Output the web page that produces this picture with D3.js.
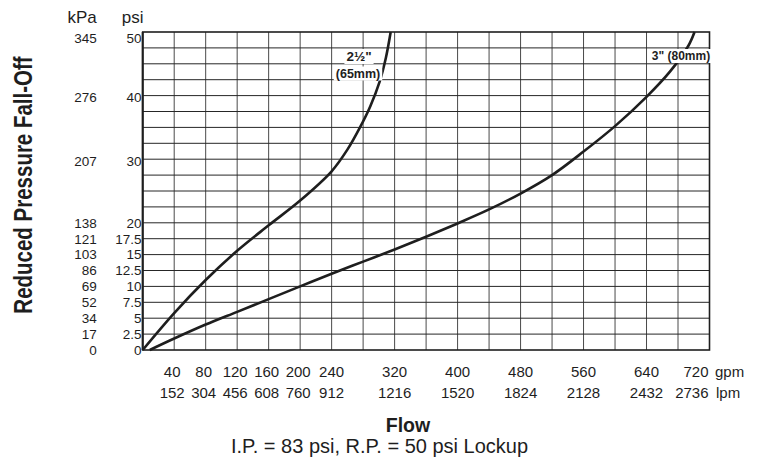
<!DOCTYPE html>
<html><head><meta charset="utf-8">
<script src="https://cdn.jsdelivr.net/npm/d3@7/dist/d3.min.js"></script>
<style>body{margin:0;background:#fff}svg{display:block}</style>
</head><body><svg id="c" width="761" height="470"></svg>
<script>
// ---- data ----
const gpmTicks = [40, 80, 120, 160, 200, 240, 320, 400, 480, 560, 640, 720];
const lpmTicks = [152, 304, 456, 608, 760, 912, 1216, 1520, 1824, 2128, 2432, 2736];
const psiTicks = [0, 2.5, 5, 7.5, 10, 12.5, 15, 17.5, 20, 30, 40, 50];
const kpaTicks = [0, 17, 34, 52, 69, 86, 103, 121, 138, 207, 276, 345];
const flow25 = [0, 40, 80, 120, 160, 200, 240, 260, 276, 289, 301, 309, 315];
const psi25  = [0, 5.8, 11.0, 15.6, 19.6, 23.5, 28.1, 31.5, 35.0, 38.3, 42.2, 46.0, 50];
const flow3  = [9, 40, 80, 120, 160, 200, 240, 280, 320, 360, 400, 440, 480, 520, 560, 600, 640, 670, 693, 701];
const psi3   = [0, 1.8, 4.0, 6.0, 8.0, 10.0, 12.0, 13.9, 15.8, 17.8, 19.9, 22.1, 24.6, 27.5, 31.2, 35.2, 39.8, 43.8, 47.8, 50];

const svg = d3.select("#c");
const x = d3.scaleLinear().domain([0, 720]).range([142.7, 709.5]);
const y = d3.scaleLinear().domain([0, 50]).range([350, 32]);
const ink = "#1e1e1e";
const SANS = "'Liberation Sans', Arial, sans-serif";

// grid
svg.append("g").selectAll("line").data(d3.range(40, 720, 40)).join("line")
  .attr("x1", d => x(d)).attr("x2", d => x(d)).attr("y1", y(50)).attr("y2", y(0))
  .attr("stroke", "#4a4a4a").attr("stroke-width", 1);
svg.append("g").selectAll("line").data(d3.range(2.5, 50, 2.5)).join("line")
  .attr("x1", x(0)).attr("x2", x(720)).attr("y1", d => y(d)).attr("y2", d => y(d))
  .attr("stroke", "#262626").attr("stroke-width", 1);
svg.append("rect").attr("x", x(0)).attr("y", y(50)).attr("width", x(720) - x(0)).attr("height", y(0) - y(50))
  .attr("fill", "none").attr("stroke", ink).attr("stroke-width", 1.6);
svg.append("line").attr("x1", x(0)).attr("x2", x(0)).attr("y1", y(50)).attr("y2", y(0))
  .attr("stroke", ink).attr("stroke-width", 2);

// curves
const line = d3.line().x(d => x(d[0])).y(d => y(d[1])).curve(d3.curveCatmullRom.alpha(0.5));
svg.append("path").attr("d", line(flow25.map((f, i) => [f, psi25[i]])))
  .attr("fill", "none").attr("stroke", ink).attr("stroke-width", 2.6);
svg.append("path").attr("d", line(flow3.map((f, i) => [f, psi3[i]])))
  .attr("fill", "none").attr("stroke", ink).attr("stroke-width", 2.6);

// curve labels with white boxes
function label(cx, cy, txt, size) {
  const t = svg.append("text").attr("x", cx).attr("y", cy).attr("text-anchor", "middle")
    .attr("dominant-baseline", "central").attr("font-family", SANS).attr("font-weight", "bold")
    .attr("font-size", size).attr("fill", ink).text(txt);
  const b = t.node().getBBox();
  svg.insert("rect", () => t.node()).attr("x", b.x - 2).attr("y", b.y).attr("width", b.width + 4)
    .attr("height", b.height).attr("fill", "#fff");
}
label(359, 56.5, "2½\"", 13.5);
label(358, 73.5, "(65mm)", 12.5);
label(681, 56, "3\" (80mm)", 12);

// y tick labels (psi and kPa)
const yShift = v => v === 50 ? 6 : (v >= 30 ? 2 : 0);
svg.append("g").selectAll("text").data(psiTicks).join("text")
  .attr("x", 141.5).attr("y", d => y(d) + yShift(d)).attr("dy", "0.36em")
  .attr("text-anchor", "end").attr("font-family", SANS).attr("font-size", 13.5).attr("fill", ink)
  .text(d => d);
svg.append("g").selectAll("text").data(kpaTicks).join("text")
  .attr("x", 96.7).attr("y", (d, i) => y(psiTicks[i]) + yShift(psiTicks[i])).attr("dy", "0.36em")
  .attr("text-anchor", "end").attr("font-family", SANS).attr("font-size", 13.5).attr("fill", ink)
  .text(d => d);
svg.append("text").attr("x", 96.7).attr("y", 23).attr("text-anchor", "end")
  .attr("font-family", SANS).attr("font-size", 17).attr("fill", ink).text("kPa");
svg.append("text").attr("x", 121.7).attr("y", 23)
  .attr("font-family", SANS).attr("font-size", 17).attr("fill", ink).text("psi");

// x tick labels
const xl = (d, i) => i === gpmTicks.length - 1 ? x(720) - 1 : x(gpmTicks[i]) - (gpmTicks[i] <= 200 ? 2 : 0);
const anch = (d, i) => i === gpmTicks.length - 1 ? "end" : "middle";
svg.append("g").selectAll("text").data(gpmTicks).join("text")
  .attr("x", xl).attr("y", 376.7).attr("text-anchor", anch)
  .attr("font-family", SANS).attr("font-size", 15).attr("fill", ink).text(d => d);
svg.append("g").selectAll("text").data(lpmTicks).join("text")
  .attr("x", xl).attr("y", 397.7).attr("text-anchor", anch)
  .attr("font-family", SANS).attr("font-size", 15).attr("fill", ink).text(d => d);
svg.append("text").attr("x", 715).attr("y", 376.7).attr("font-family", SANS).attr("font-size", 15)
  .attr("fill", ink).text("gpm");
svg.append("text").attr("x", 716).attr("y", 397.7).attr("font-family", SANS).attr("font-size", 15)
  .attr("fill", ink).text("lpm");

// titles
svg.append("text").attr("transform", "translate(32.3,185) scale(1.28,1) rotate(-90)").attr("text-anchor", "middle")
  .attr("font-family", SANS).attr("font-weight", "bold")
  .attr("font-size", 20.5).attr("fill", ink).text("Reduced Pressure Fall-Off");
svg.append("text").attr("x", 408).attr("y", 431.5).attr("text-anchor", "middle")
  .attr("font-family", SANS).attr("font-weight", "bold").attr("font-size", 19.5).attr("fill", ink).text("Flow");
svg.append("text").attr("x", 379.5).attr("y", 453).attr("text-anchor", "middle")
  .attr("font-family", SANS).attr("font-size", 20).attr("fill", ink).text("I.P. = 83 psi, R.P. = 50 psi Lockup");
</script>
</body></html>
